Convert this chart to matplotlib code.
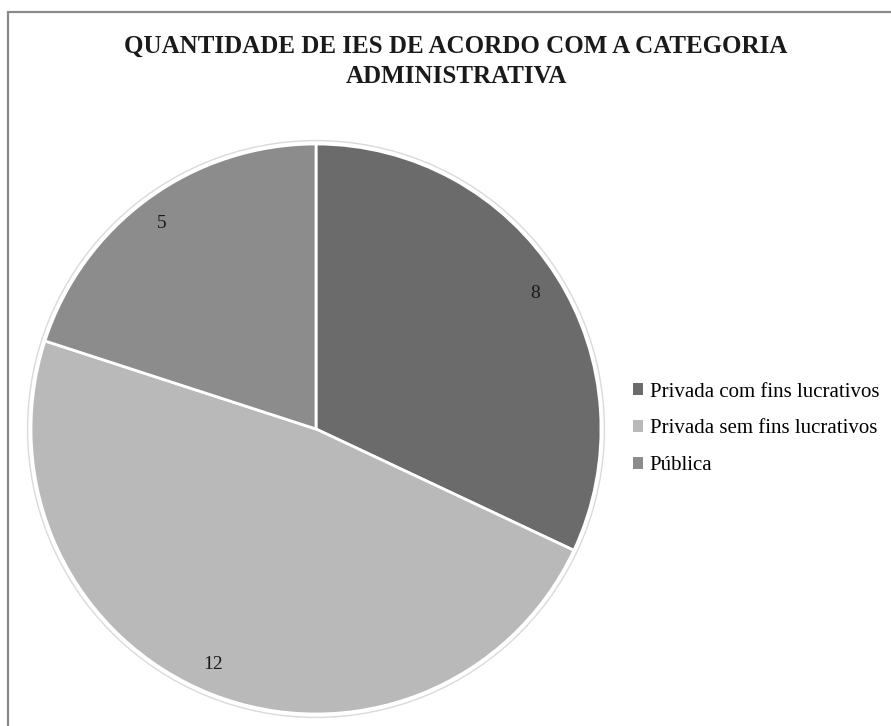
import matplotlib
matplotlib.use("Agg")
import matplotlib.pyplot as plt
from matplotlib.patches import Rectangle, Circle

# Data
categories = ["Privada com fins lucrativos", "Privada sem fins lucrativos", "Pública"]
values = [8, 12, 5]
colors = ["#6b6b6b", "#b9b9b9", "#8c8c8c"]
title = "QUANTIDADE DE IES DE ACORDO COM A CATEGORIA\nADMINISTRATIVA"

plt.rcParams["font.family"] = ["Liberation Serif", "DejaVu Serif"]

W, H = 891, 726
fig = plt.figure(figsize=(W / 100, H / 100), dpi=100)
fig.patch.set_facecolor("white")

# Frame around the chart area
fig.add_artist(Rectangle((8 / W, -0.05), 1.0, (H - 12) / H + 0.05,
                         transform=fig.transFigure, fill=False,
                         edgecolor="#8a8a8a", linewidth=1.6))

# Pie axes: centre (316, 429) px, radius 285 px
lim = 1.03
cx, cy, r = 316, 429, 285 * lim
ax = fig.add_axes([(cx - r) / W, (H - cy - r) / H, 2 * r / W, 2 * r / H])
wedges, texts = ax.pie(values, colors=colors, startangle=90, counterclock=False,
                       labels=[str(v) for v in values], labeldistance=0.89,
                       wedgeprops=dict(edgecolor="white", linewidth=2),
                       textprops=dict(fontsize=14, color="#1a1a1a"))
ax.add_patch(Circle((0, 0), 1.012, fill=False, edgecolor="#dadada", linewidth=1))
ax.set_xlim(-lim, lim)
ax.set_ylim(-lim, lim)
ax.set_aspect("equal")
ax.axis("off")

fig.text(456 / W, 1 - 61 / H, title, ha="center", va="center",
         fontsize=18, fontweight="bold", color="#1a1a1a", linespacing=1.4)

leg = fig.legend(wedges, categories, loc="center left",
                 bbox_to_anchor=(633 / W, 1 - 429 / H),
                 frameon=False, fontsize=15, handlelength=0.5, handleheight=0.5,
                 handletextpad=0.3, labelspacing=0.85, borderaxespad=0,
                 borderpad=0)
for h in leg.legend_handles:
    h.set_edgecolor("none")

fig.savefig("out.png", dpi=100, facecolor="white")
